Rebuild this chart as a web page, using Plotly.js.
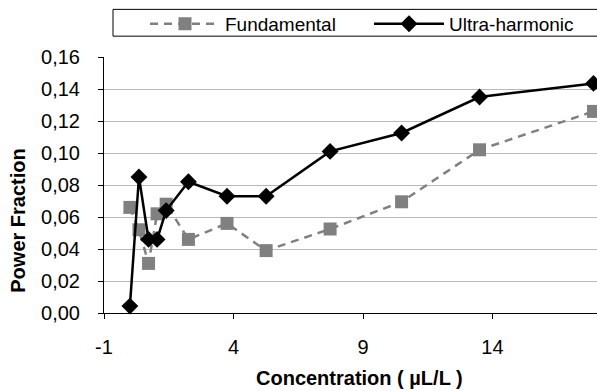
<!DOCTYPE html>
<html>
<head>
<meta charset="utf-8">
<script src="https://cdn.plot.ly/plotly-3.0.1.min.js"></script>
<style>
html,body{margin:0;padding:0;overflow:hidden;background:#fff;width:597px;height:391px;}
#chart{width:620px;height:391px;}
</style>
</head>
<body>
<div id="chart"></div>
<script>
// Data
var concentration = [0, 0.35, 0.72, 1.05, 1.4, 2.26, 3.75, 5.26, 7.73, 10.49, 13.5, 17.9];
var fundamental   = [0.066, 0.052, 0.031, 0.062, 0.068, 0.046, 0.056, 0.039, 0.0525, 0.0695, 0.102, 0.126];
var ultraHarmonic = [0.0043, 0.085, 0.046, 0.046, 0.064, 0.082, 0.073, 0.073, 0.101, 0.1125, 0.135, 0.1435];
var seriesNames = ['Fundamental', 'Ultra-harmonic'];
var xTickVals = [-1, 4, 9, 14];
var yTickVals = [0, 0.02, 0.04, 0.06, 0.08, 0.10, 0.12, 0.14, 0.16];

var FONT = 'Liberation Sans, Arial, sans-serif';

var traces = [
  {
    x: concentration, y: fundamental, name: seriesNames[0],
    type: 'scatter', mode: 'lines+markers', legend: 'legend',
    line: {color: '#808080', width: 2.5, dash: '8px,6px'},
    marker: {symbol: 'square', size: 13, color: '#808080'},
    cliponaxis: false
  },
  {
    x: concentration, y: ultraHarmonic, name: seriesNames[1],
    type: 'scatter', mode: 'lines+markers', legend: 'legend2',
    line: {color: '#000000', width: 2.5},
    marker: {symbol: 'diamond', size: 13, color: '#000000'},
    cliponaxis: false
  }
];

function legendCfg(px) {
  return {
    orientation: 'h', x: (px - 104) / 511, y: (313 - 2.5) / 258,
    xanchor: 'left', yanchor: 'top',
    bgcolor: 'rgba(0,0,0,0)', borderwidth: 0,
    font: {family: FONT, size: 19, color: '#000'},
    itemwidth: 70, itemclick: false
  };
}

var layout = {
  width: 620, height: 391,
  margin: {l: 104, r: 5, t: 55, b: 78, pad: 0},
  paper_bgcolor: '#ffffff', plot_bgcolor: '#ffffff',
  font: {family: FONT, size: 20, color: '#000'},
  separators: ',.',
  showlegend: true,
  legend: legendCfg(145),
  legend2: legendCfg(369),
  xaxis: {
    range: [-1, 18.73], tickmode: 'array', tickvals: xTickVals,
    ticktext: xTickVals.map(String),
    showgrid: false, zeroline: false,
    showline: true, linecolor: '#000', linewidth: 1,
    ticks: 'outside', ticklen: 5, tickcolor: '#000', tickwidth: 1,
    ticklabelstandoff: 11,
    tickfont: {family: FONT, size: 20, color: '#000'}
  },
  yaxis: {
    range: [0, 0.16], tickmode: 'array', tickvals: yTickVals,
    tickformat: '.2f',
    showgrid: true, gridcolor: '#b8b8b8', gridwidth: 1,
    zeroline: false,
    showline: true, linecolor: '#000', linewidth: 1,
    ticks: 'outside', ticklen: 5, tickcolor: '#000', tickwidth: 1,
    ticklabelstandoff: 14,
    tickfont: {family: FONT, size: 20, color: '#000'}
  },
  shapes: [
    {type: 'rect', xref: 'paper', yref: 'paper',
     x0: (113 - 104) / 511, x1: 1.2, y0: (313 - 34) / 258, y1: (313 - 7) / 258,
     line: {color: '#000', width: 1}, fillcolor: 'rgba(0,0,0,0)', layer: 'below'}
  ],
  annotations: [
    {text: '<b>Concentration ( µL/L )</b>', xref: 'paper', yref: 'paper',
     x: 0.5, y: (313 - 379) / 258, xanchor: 'center', yanchor: 'middle',
     showarrow: false, font: {family: FONT, size: 20, color: '#000'}},
    {text: '<b>Power Fraction</b>', xref: 'paper', yref: 'paper',
     x: (18 - 104) / 511, y: (313 - 220) / 258, xanchor: 'center', yanchor: 'middle',
     textangle: -90, showarrow: false, font: {family: FONT, size: 20, color: '#000'}}
  ]
};

Plotly.newPlot('chart', traces, layout, {displayModeBar: false, staticPlot: true});
</script>
</body>
</html>
